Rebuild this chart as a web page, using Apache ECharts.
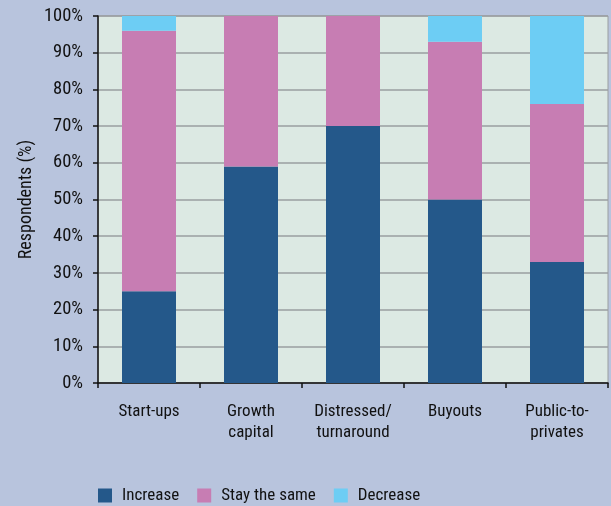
<!DOCTYPE html>
<html>
<head>
<meta charset="utf-8">
<script src="https://cdn.jsdelivr.net/npm/echarts@6/dist/echarts.min.js"></script>
<style>
  html, body { margin: 0; padding: 0; background: #b8c4dd; }
  #chart { width: 611px; height: 506px; }
</style>
</head>
<body>
<div id="chart"></div>
<script>
// Expected change in deal activity by investment type (share of respondents)
const categories = ['Start-ups', 'Growth\ncapital', 'Distressed/\nturnaround', 'Buyouts', 'Public-to-\nprivates'];
const increase = [25, 59, 70, 50, 33];
const staySame = [71, 41, 30, 43, 43];
const decrease = [4, 0, 0, 7, 24];
const yTicks = [0, 10, 20, 30, 40, 50, 60, 70, 80, 90, 100];

const FONT = '"Liberation Sans Narrow", "Roboto Condensed", "Noto Sans", sans-serif';

const chart = echarts.init(document.getElementById('chart'));

function barSeries(name, data, color) {
  return {
    name: name,
    type: 'bar',
    stack: 'total',
    data: data,
    barWidth: 54,
    itemStyle: { color: color },
    emphasis: { disabled: true }
  };
}

chart.setOption({
  backgroundColor: '#b8c4dd',
  animation: false,
  textStyle: { fontFamily: FONT },
  grid: {
    left: 98, right: 3, top: 16, bottom: 123,
    show: true,
    backgroundColor: '#dce9e3',
    borderColor: '#9a9ea0',
    borderWidth: 1
  },
  legend: {
    left: 98, top: 487,
    padding: 0,
    itemWidth: 14, itemHeight: 14, itemGap: 18,
    icon: 'rect',
    textStyle: { fontSize: 17, color: '#111', fontFamily: FONT, padding: [0, 0, 0, 5] },
    data: ['Increase', 'Stay the same', 'Decrease']
  },
  xAxis: {
    type: 'category',
    data: categories,
    axisLine: { lineStyle: { color: '#111', width: 1.5 } },
    axisTick: { show: true, length: 5, alignWithLabel: false, lineStyle: { color: '#111', width: 1.5 } },
    axisLabel: { fontSize: 17, color: '#111', margin: 18, lineHeight: 21, fontFamily: FONT, interval: 0 },
    splitLine: { show: false }
  },
  yAxis: {
    type: 'value',
    min: yTicks[0], max: yTicks[yTicks.length - 1], interval: 10,
    name: 'Respondents (%)',
    nameLocation: 'middle',
    nameGap: 63,
    nameMoveOverlap: false,
    nameRotate: 90,
    nameTextStyle: { fontSize: 18, color: '#111', fontFamily: FONT },
    axisLine: { show: true, lineStyle: { color: '#111', width: 1.5 } },
    axisTick: { show: true, length: 5, inside: false, lineStyle: { color: '#111', width: 1.5 } },
    axisLabel: { fontSize: 18.5, color: '#111', margin: 15, formatter: '{value}%', fontFamily: FONT },
    splitLine: { show: true, lineStyle: { color: '#9a9ea0', width: 1.5 } }
  },
  series: [
    barSeries('Increase', increase, '#24588a'),
    barSeries('Stay the same', staySame, '#c77db3'),
    barSeries('Decrease', decrease, '#6dcdf4')
  ]
});
</script>
</body>
</html>
